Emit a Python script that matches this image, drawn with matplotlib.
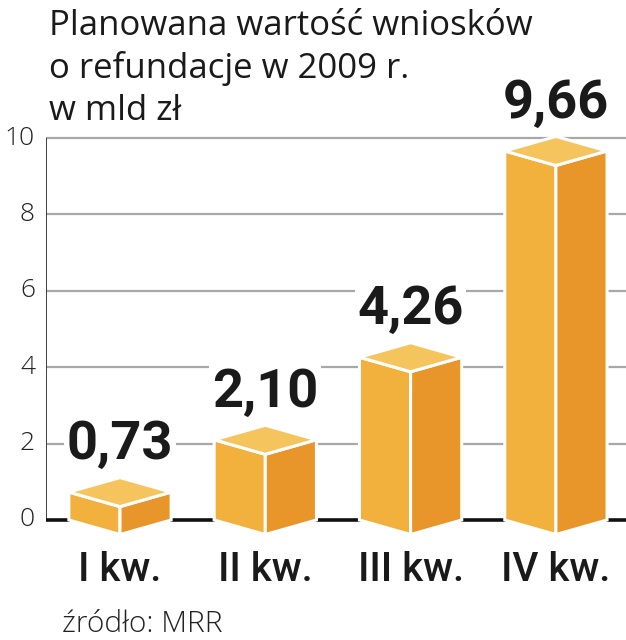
import matplotlib
matplotlib.use("Agg")
import matplotlib.pyplot as plt
from matplotlib.patches import Polygon

categories = ["I kw.", "II kw.", "III kw.", "IV kw."]
values = [0.73, 2.10, 4.26, 9.66]
value_labels = ["0,73", "2,10", "4,26", "9,66"]
yticks = [0, 2, 4, 6, 8, 10]
title_lines = ["Planowana wartość wniosków", "o refundacje w 2009 r.", "w mld zł"]
source = "źródło: MRR"

W, H = 626, 640
fig = plt.figure(figsize=(W / 100, H / 100), dpi=100)

px_per_unit = 38.2
y0_px = 520  # from top
x_left_px, x_right_px = 46, 626
spacing_px = 145.3
c0_px = 120
xl = (x_left_px - c0_px) / spacing_px
xr = (x_right_px - c0_px) / spacing_px
ylo, yhi = -1.0, 10.6
ax_bottom = (H - y0_px) + ylo * px_per_unit
ax_height = (yhi - ylo) * px_per_unit
ax = fig.add_axes([x_left_px / W, ax_bottom / H, (x_right_px - x_left_px) / W, ax_height / H])
ax.set_xlim(xl, xr)
ax.set_ylim(ylo, yhi)
ax.axis("off")

# gridlines
for t in yticks[1:]:
    ax.plot([xl, xr], [t, t], color="#a8a8a8", lw=1.6, zorder=1, solid_capstyle="butt")
# y axis line
ax.plot([xl, xl], [0, 10], color="#333333", lw=1.3, zorder=2, solid_capstyle="butt")
# zero line
ax.plot([xl, xr], [0, 0], color="#111111", lw=2.6, zorder=2, solid_capstyle="butt")

# tick labels
for t in yticks:
    ax.text(xl - 11 / spacing_px, t, str(t), ha="right", va="center",
            fontsize=19, family="Open Sans", fontweight="light", color="#222222")

hw = 0.352
dy = 0.38
front_c = "#F2B03C"
side_c = "#E8962A"
top_c = "#F6C45C"
for i, v in enumerate(values):
    c = i
    front = [(c - hw, 0), (c, -dy), (c, v - dy), (c - hw, v)]
    side = [(c, -dy), (c + hw, 0), (c + hw, v), (c, v - dy)]
    top = [(c - hw, v), (c, v + dy), (c + hw, v), (c, v - dy)]
    for poly, col in ((front, front_c), (side, side_c), (top, top_c)):
        ax.add_patch(Polygon(poly, closed=True, facecolor=col, edgecolor="white",
                             lw=2.2, joinstyle="miter", zorder=3))
    ax.text(c, v + dy + 0.2, value_labels[i], ha="center", va="bottom",
            fontsize=39, family="Roboto", fontweight="bold", color="#1a1a1a",
            zorder=4, bbox=dict(boxstyle="square,pad=0.05", fc="white", ec="none"))
    ax.text(c, -(581 - y0_px) / px_per_unit, categories[i], ha="center", va="baseline",
            fontsize=29, family="Roboto", fontweight="medium", color="#1a1a1a")

for k, line in enumerate(title_lines):
    fig.text(49 / W, 1 - (35 + 42.5 * k) / H, line, ha="left", va="baseline",
             fontsize=25, family="Open Sans", color="#1a1a1a")

fig.text(62 / W, 1 - 632 / H, source, ha="left", va="baseline",
         fontsize=21.5, family="Open Sans", fontweight="light", color="#222222")

fig.savefig("out.png", dpi=100, facecolor="white")
